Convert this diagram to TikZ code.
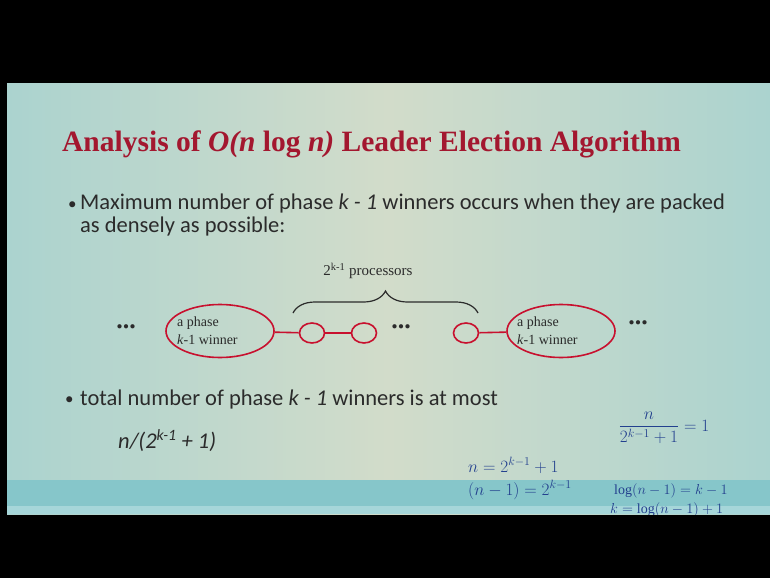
\documentclass[tikz,border=0pt]{standalone}
\usepackage{amsmath}
\usepackage{fontspec}
\setmainfont{Liberation Serif}
\newfontfamily\bodyfont{Carlito}
\usepackage{xcolor}
\usetikzlibrary{shapes.geometric,decorations.pathreplacing}
\definecolor{titlered}{HTML}{A3172F}
\definecolor{ringred}{HTML}{C8102E}
\definecolor{inkblue}{HTML}{23408E}
\definecolor{bgmid}{HTML}{D2DCCA}
\definecolor{bgside}{HTML}{ABD3CF}
\definecolor{stripe}{HTML}{86C6CA}
\definecolor{stripelight}{HTML}{A6D6D9}
\definecolor{textgray}{HTML}{2B2B2B}
\tikzset{
  winner/.style={ellipse,draw=ringred,line width=1.6pt,minimum width=108pt,minimum height=53pt,inner sep=0pt},
  proc/.style={ellipse,draw=ringred,line width=1.6pt,minimum width=25pt,minimum height=20pt,inner sep=0pt},
  link/.style={draw=ringred,line width=1.6pt},
  wtext/.style={anchor=west,align=left,inner sep=0pt,font=\fontsize{14}{18}\selectfont,text=textgray},
  body/.style={anchor=base west,inner sep=0pt,font=\bodyfont\fontsize{22.5}{24}\selectfont,text=textgray},
  bullet/.style={anchor=base west,inner sep=0pt,font=\bodyfont\fontsize{17}{20}\selectfont,text=textgray},
  ink/.style={inner sep=0pt,text=inkblue,font=\fontsize{17}{20}\selectfont},
  dots/.style={inner sep=0pt,font=\bfseries\fontsize{26}{28}\selectfont,text=textgray}
}
\begin{document}
\begin{tikzpicture}[x=1pt,y=-1pt]
      \useasboundingbox (0,0) rectangle (770,578);
      \shade [left color=bgside,right color=bgside,middle color=bgmid] (7,83) rectangle (770,515);
      \fill [stripe] (7,480) rectangle (770,506);
      \fill [stripelight] (7,506) rectangle (770,514);
%%
      \node (title) [anchor=base west,inner sep=0pt,text=titlered,font=\bfseries\fontsize{29.5}{32}\selectfont] at (62,151) {Analysis of \textit{O(n} log \textit{n)} Leader Election Algorithm};
      \node (bul1) [bullet] at (68,209) {\textbullet};
      \node (item1a) [body] at (80,209) {Maximum number of phase \textit{k - 1} winners occurs when they are packed};
      \node (item1b) [body] at (80,232) {as densely as possible:};
      \node (bul2) [bullet] at (65,404) {\textbullet};
      \node (item2) [body] at (80,405) {total number of phase \textit{k - 1} winners is at most};
      \node (bound) [body] at (118,448) {\textit{n/(2\textsuperscript{k-1} + 1)}};
%%
      \node (dotsL) [dots] at (126,327) {...};
      \node (W1) [winner] at (220,331) {};
      \node (W1t) [wtext] at (177,331) {a phase\\\textit{k}-1 winner};
      \node (P1) [proc] at (312,333) {};
      \node (P2) [proc] at (364,333) {};
      \node (dotsM) [dots] at (401,327) {...};
      \node (P3) [proc] at (466,333) {};
      \node (W2) [winner] at (561,331) {};
      \node (W2t) [wtext] at (517,331) {a phase\\\textit{k}-1 winner};
      \node (dotsR) [dots] at (638,323) {...};
      \draw [link] (W1) -- (P1);
      \draw [link] (P1) -- (P2);
      \draw [link] (P3) -- (W2);
%%
      \coordinate (braceL) at (293,313);
      \coordinate (braceR) at (478,313);
      \draw [textgray,line width=1.2pt,decorate,decoration={brace,amplitude=22pt}] (braceL) -- (braceR);
      \node (count) [inner sep=0pt,text=textgray,font=\fontsize{15}{18}\selectfont] at (368,271) {2\textsuperscript{k-1} processors};
%%
      \node (frac) [ink] at (664,428) {$\dfrac{n}{2^{k-1}+1}=1$};
      \node (eq1) [ink,anchor=base west] at (468,472) {$n=2^{k-1}+1$};
      \node (eq2) [ink,anchor=base west] at (468,495) {$(n-1)=2^{k-1}$};
      \node (eq3) [ink,anchor=base west,font=\fontsize{14}{16}\selectfont] at (614,494) {$\log(n-1)=k-1$};
      \node (eq4) [ink,anchor=base west,font=\fontsize{14}{16}\selectfont] at (610,513) {$k=\log(n-1)+1$};
%%
      \fill [black] (0,0) rectangle (770,83);
      \fill [black] (0,515) rectangle (770,578);
      \fill [black] (0,83) rectangle (7,515);
    \end{tikzpicture}
\end{document}
